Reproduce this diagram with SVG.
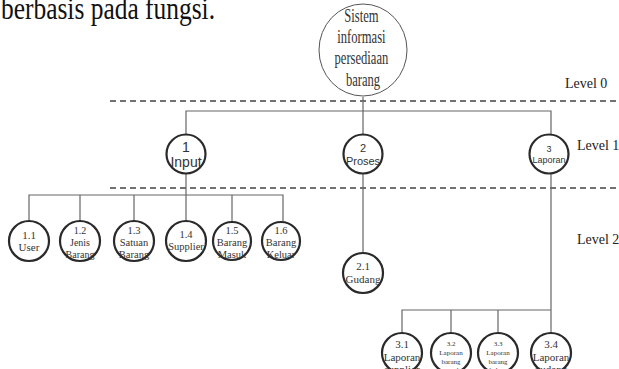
<svg xmlns="http://www.w3.org/2000/svg" width="619" height="369" viewBox="0 0 619 369">
  <style>
    .node { fill: #fff; stroke: #2a2a2a; stroke-width: 2.2; }
    .root { fill: #fff; stroke: #555; stroke-width: 1; }
    .conn { fill: none; stroke: #666; stroke-width: 1.2; }
    .dash { fill: none; stroke: #444; stroke-width: 1.5; stroke-dasharray: 6 4; }
    .serif { font-family: "Liberation Serif", "Times New Roman", serif; fill: #333; text-anchor: middle; }
    .sans { font-family: "Liberation Sans", Arial, sans-serif; fill: #333; text-anchor: middle; }
    .lvl { font-family: "Liberation Serif", "Times New Roman", serif; fill: #222; font-size: 14px; }
  </style>
  <rect width="619" height="369" fill="#fff"/>

  <!-- heading line from the surrounding document -->
  <text x="1" y="19" font-family="Liberation Serif, serif" font-size="32" fill="#111" textLength="214" lengthAdjust="spacingAndGlyphs">berbasis pada fungsi.</text>

  <!-- level separators -->
  <line class="dash" x1="110" y1="101" x2="619" y2="101"/>
  <line class="dash" x1="110" y1="188" x2="619" y2="188"/>
  <text class="lvl" x="565" y="88">Level 0</text>
  <text class="lvl" x="577" y="150">Level 1</text>
  <text class="lvl" x="577" y="244">Level 2</text>

  <g id="connectors">
    <line class="conn" x1="363" y1="97" x2="363" y2="111"/>
    <polyline class="conn" points="186,134 186,111 551,111 551,136"/>
    <line class="conn" x1="363" y1="111" x2="363" y2="136"/>
    <line class="conn" x1="186" y1="172" x2="186" y2="221"/>
    <polyline class="conn" points="29,221 29,195 283,195 283,221"/>
    <line class="conn" x1="80" y1="195" x2="80" y2="221"/>
    <line class="conn" x1="134" y1="195" x2="134" y2="221"/>
    <line class="conn" x1="232" y1="195" x2="232" y2="221"/>
    <line class="conn" x1="363" y1="172" x2="363" y2="253"/>
    <line class="conn" x1="551" y1="172" x2="551" y2="333"/>
    <polyline class="conn" points="402,333 402,310 551,310"/>
    <line class="conn" x1="451" y1="310" x2="451" y2="333"/>
    <line class="conn" x1="498" y1="310" x2="498" y2="333"/>
  </g>

  <g id="n0">
    <ellipse class="root" cx="363" cy="50" rx="44" ry="46"/>
    <text class="serif" font-size="18" transform="translate(363 0) scale(0.7 1)">
      <tspan x="0" y="22">Sistem</tspan>
      <tspan x="0" y="43">informasi</tspan>
      <tspan x="0" y="64">persediaan</tspan>
      <tspan x="0" y="86">barang</tspan>
    </text>
  </g>

  <g id="n1">
    <circle class="node" cx="186" cy="154" r="19.5"/>
    <text class="sans" font-size="14"><tspan x="186" y="152">1</tspan><tspan x="186" y="167">Input</tspan></text>
  </g>
  <g id="n2">
    <circle class="node" cx="363" cy="154" r="19.5"/>
    <text class="sans" font-size="11"><tspan x="363" y="152">2</tspan><tspan x="363" y="165">Proses</tspan></text>
  </g>
  <g id="n3">
    <circle class="node" cx="549" cy="154" r="19.5"/>
    <text class="sans" font-size="9"><tspan x="549" y="152">3</tspan><tspan x="549" y="163">Laporan</tspan></text>
  </g>

  <g id="n1-1">
    <circle class="node" cx="29" cy="241" r="20"/>
    <text class="serif" font-size="11"><tspan x="29" y="239">1.1</tspan><tspan x="29" y="251">User</tspan></text>
  </g>
  <g id="n1-2">
    <circle class="node" cx="80" cy="241" r="20"/>
    <text class="serif" font-size="10"><tspan x="80" y="234">1.2</tspan><tspan x="80" y="246">Jenis</tspan><tspan x="80" y="258">Barang</tspan></text>
  </g>
  <g id="n1-3">
    <circle class="node" cx="134" cy="241" r="20"/>
    <text class="serif" font-size="10.5"><tspan x="134" y="234">1.3</tspan><tspan x="134" y="246">Satuan</tspan><tspan x="134" y="258">Barang</tspan></text>
  </g>
  <g id="n1-4">
    <circle class="node" cx="186" cy="241" r="20"/>
    <text class="serif" font-size="10.5"><tspan x="186" y="238">1.4</tspan><tspan x="186" y="250">Supplier</tspan></text>
  </g>
  <g id="n1-5">
    <circle class="node" cx="232" cy="241" r="19"/>
    <text class="serif" font-size="10.5"><tspan x="232" y="234">1.5</tspan><tspan x="232" y="246">Barang</tspan><tspan x="232" y="258">Masuk</tspan></text>
  </g>
  <g id="n1-6">
    <circle class="node" cx="281" cy="241" r="19"/>
    <text class="serif" font-size="10.5"><tspan x="281" y="234">1.6</tspan><tspan x="281" y="246">Barang</tspan><tspan x="281" y="258">Keluar</tspan></text>
  </g>

  <g id="n2-1">
    <circle class="node" cx="363" cy="273" r="20"/>
    <text class="serif" font-size="11"><tspan x="363" y="270">2.1</tspan><tspan x="363" y="283">Gudang</tspan></text>
  </g>

  <g id="n3-1">
    <circle class="node" cx="402" cy="353" r="20"/>
    <text class="serif" font-size="11"><tspan x="402" y="348">3.1</tspan><tspan x="402" y="361">Laporan</tspan><tspan x="402" y="373">supplier</tspan></text>
  </g>
  <g id="n3-2">
    <circle class="node" cx="451" cy="353" r="20"/>
    <text class="serif" font-size="7"><tspan x="451" y="346">3.2</tspan><tspan x="451" y="355">Laporan</tspan><tspan x="451" y="364">barang</tspan><tspan x="451" y="372">masuk</tspan></text>
  </g>
  <g id="n3-3">
    <circle class="node" cx="498" cy="353" r="20"/>
    <text class="serif" font-size="7"><tspan x="498" y="346">3.3</tspan><tspan x="498" y="355">Laporan</tspan><tspan x="498" y="364">barang</tspan><tspan x="498" y="372">keluar</tspan></text>
  </g>
  <g id="n3-4">
    <circle class="node" cx="551" cy="353" r="20"/>
    <text class="serif" font-size="11"><tspan x="551" y="348">3.4</tspan><tspan x="551" y="361">Laporan</tspan><tspan x="551" y="373">gudang</tspan></text>
  </g>
</svg>
